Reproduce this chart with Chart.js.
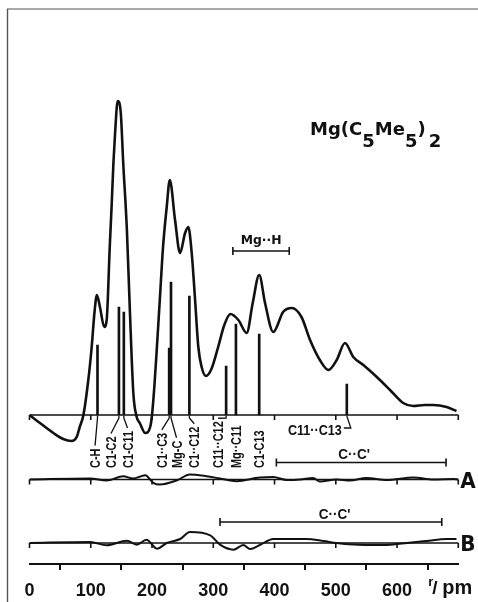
<!DOCTYPE html>
<html>
<head>
<meta charset="utf-8">
<script src="https://cdn.jsdelivr.net/npm/chart.js@4.4.0/dist/chart.umd.min.js"></script>
<style>
  html, body { margin: 0; padding: 0; background: #fff; }
</style>
</head>
<body>
<canvas id="rdf" width="478" height="602"></canvas>
<script>
// radial distribution curve of Mg(C5Me5)2, r in pm, intensity in arbitrary units
const rdfR = [0, 17, 39, 55, 69, 77, 82, 88, 96, 101.5, 106, 110, 115, 122, 126, 131, 134, 137, 140, 144,
  149, 153, 159, 164, 169.5, 175, 180, 189, 197, 200, 204, 208, 213, 218, 224, 229, 237.6, 245.7, 254, 259.3,
  264.8, 270, 275.6, 281, 288, 297, 308, 318, 328, 341, 354.6, 364.4, 375, 384.5, 398, 414, 428, 444, 458, 474,
  488, 501.5, 515, 528.6, 545, 567, 588.6, 610, 626.6, 645, 659, 681, 697];
const rdfVal = [0, -8, -18, -24, -26, -22, -12, 0, 35, 68, 102, 120, 108, 88, 95, 168, 208, 252, 285, 314,
  302, 252, 185, 102, 22, -2, -8, -18, -12, 0, 30, 68, 118, 168, 208, 235, 195, 162, 182, 188,
  162, 118, 68, 48, 39, 46, 68, 90, 101, 95, 82, 112, 140, 112, 83, 103, 107, 98, 75, 55,
  45, 55, 72, 58, 50, 38, 25, 12, 9, 10, 10, 8, 4];

// difference curves A and B
const diffAR = [0, 99, 126, 153, 169, 189, 202, 213, 240, 262, 289, 311, 338, 376, 398, 420, 442, 463, 474,
  501, 523, 550, 583, 627, 659, 692, 700];
const diffAVal = [0, 1, -1, 3.3, 1, 4.3, -3.3, -5, -1, 5, 3.3, 1, -1.7, 2, 2.5, -0.5, 0, 1.5, -2,
  0, -1, 1.5, -0.5, 2, 0, 0.5, 0];
const diffBR = [0, 99, 126, 159, 175, 191, 208, 224, 246, 262, 295, 311, 333, 349, 360, 376, 398, 420, 452,
  480, 501, 529, 572, 594, 616, 648, 681, 697];
const diffBVal = [0, 1, -2.3, 2.3, -1.7, 3.3, -5.7, 0, 4, 11, 7.7, -1.7, -6.7, -2, -6, -2, 4, 4, 4,
  2, 0, -1.5, -2, -1.5, 0, 2, 4, 4];

// interatomic distances (sticks)
const bondNames = ["C-H", "C1-C2", "C1-C11", "C1··C3", "Mg-C", "C1··C12", "C11··C12", "Mg··C11", "C1-C13", "C11··C13"];
const bondR = [111, 146, 154, 228, 231, 261, 321, 337, 375, 518];
const bondHeight = [70, 108, 103, 67, 133, 119, 49, 91, 81, 31];
const bondLabelR = [107, 133, 160, 216, 240, 269, 308, 337, 375, null];

const xTicks = [0, 100, 200, 300, 400, 500, 600, 700];
const rangeMgH = [332, 424];
const rangeCCA = [403, 680];
const rangeCCB = [311, 673];

const ink = "#111";
const toXY = (xs, ys) => xs.map((x, i) => ({ x: x, y: ys[i] }));

function line(ctx, x1, y1, x2, y2, w) {
  ctx.lineWidth = w || 1.5;
  ctx.beginPath();
  ctx.moveTo(x1, y1);
  ctx.lineTo(x2, y2);
  ctx.stroke();
}

function text(ctx, s, x, y, font, squeeze, align) {
  ctx.save();
  ctx.font = font;
  ctx.textAlign = align || "left";
  ctx.textBaseline = "alphabetic";
  ctx.translate(x, y);
  ctx.scale(squeeze || 1, 1);
  ctx.fillText(s, 0, 0);
  ctx.restore();
}

function rangeBar(ctx, xs, r1, r2, y) {
  const a = xs.getPixelForValue(r1), b = xs.getPixelForValue(r2);
  line(ctx, a, y, b, y, 1.6);
  line(ctx, a, y - 4, a, y + 4, 1.6);
  line(ctx, b, y - 4, b, y + 4, 1.6);
}

const decor = {
  id: "decor",
  afterDatasetsDraw(chart) {
    const { ctx } = chart;
    const { x, yMain, yA, yB } = chart.scales;
    ctx.save();
    ctx.strokeStyle = ink;
    ctx.fillStyle = ink;

    // frame
    ctx.strokeStyle = "#555";
    line(ctx, 7.5, 9, 7.5, 602, 1.4);
    line(ctx, 7, 9, 478, 9, 1.2);
    ctx.strokeStyle = ink;

    // zero lines with small ticks
    [yMain, yA, yB].forEach(s => {
      const y0 = s.getPixelForValue(0);
      line(ctx, x.getPixelForValue(0), y0, x.getPixelForValue(700), y0, 1.6);
      xTicks.forEach(t => {
        const px = x.getPixelForValue(t);
        line(ctx, px, y0, px, y0 + 5, 1.6);
      });
    });

    // distance labels below the zero line
    const base = yMain.getPixelForValue(0);
    const labelFont = "bold 14px 'Liberation Sans'";
    const squeeze = 0.78;
    bondNames.forEach((name, i) => {
      if (bondLabelR[i] === null) return;
      const lx = x.getPixelForValue(bondLabelR[i]);
      const sx = x.getPixelForValue(bondR[i]);
      const bottom = base + 53;
      ctx.font = labelFont;
      const w = ctx.measureText(name).width * squeeze;
      ctx.save();
      ctx.translate(lx, bottom);
      ctx.rotate(-Math.PI / 2);
      text(ctx, name, 0, 5, labelFont, squeeze);
      ctx.restore();
      if (Math.abs(lx - sx) > 2) {
        ctx.lineWidth = 1.3;
        ctx.beginPath();
        ctx.moveTo(sx, base + 1);
        ctx.lineTo(sx, base + 3);
        ctx.lineTo(lx, bottom - w - 3);
        ctx.stroke();
      }
    });

    // C11..C13 label
    const s13 = x.getPixelForValue(bondR[9]);
    text(ctx, bondNames[9], s13 - 5, base + 20, "bold 15px 'Liberation Sans'", 0.84, "right");
    ctx.lineWidth = 1.3;
    ctx.beginPath();
    ctx.moveTo(s13, base + 1);
    ctx.lineTo(s13 + 4, base + 13);
    ctx.lineTo(s13 - 3, base + 13);
    ctx.stroke();

    // Mg..H range
    const yMgH = yMain.getPixelForValue(164);
    rangeBar(ctx, x, rangeMgH[0], rangeMgH[1], yMgH);
    text(ctx, "Mg··H", x.getPixelForValue((rangeMgH[0] + rangeMgH[1]) / 2), yMgH - 7, "bold 13px 'DejaVu Sans'", 0.95, "center");

    // C..C' ranges of A and B
    const yCA = yA.getPixelForValue(17);
    rangeBar(ctx, x, rangeCCA[0], rangeCCA[1], yCA);
    text(ctx, "C··C'", x.getPixelForValue(530), yCA - 4, "bold 15px 'Liberation Sans'", 0.9, "center");
    const yCB = yB.getPixelForValue(21);
    rangeBar(ctx, x, rangeCCB[0], rangeCCB[1], yCB);
    text(ctx, "C··C'", x.getPixelForValue(498), yCB - 3, "bold 15px 'Liberation Sans'", 0.9, "center");

    // curve names
    const right = x.getPixelForValue(700);
    text(ctx, "A", right + 2, yA.getPixelForValue(0) + 8, "bold 21px 'DejaVu Sans'", 0.95);
    text(ctx, "B", right + 2, yB.getPixelForValue(0) + 8, "bold 21px 'DejaVu Sans'", 0.95);

    // title Mg(C5Me5)2
    const tf = "bold 18px 'DejaVu Sans'";
    ctx.font = tf;
    let tx = 310;
    [["Mg(C", 0], ["5", 12], ["Me", 0], ["5", 12], [")", 0], ["2", 12]].forEach(([s, dy]) => {
      text(ctx, s, tx, 135 + dy, tf, 1);
      tx += ctx.measureText(s).width + (s === ")" ? 3 : 0);
    });

    // axis unit r/pm
    text(ctx, "r", right - 30, 586, "bold 13px 'Liberation Sans'", 1);
    text(ctx, "/", right - 26, 594, "bold 19px 'Liberation Sans'", 1);
    text(ctx, "pm", right - 16, 594, "bold 21px 'Liberation Sans'", 0.95);

    ctx.restore();
  }
};

new Chart(document.getElementById("rdf"), {
  type: "line",
  data: {
    datasets: [
      {
        label: "radial distribution",
        data: toXY(rdfR, rdfVal),
        yAxisID: "yMain",
        borderColor: ink,
        borderWidth: 2.6,
        pointRadius: 0,
        cubicInterpolationMode: "monotone",
        fill: false
      },
      {
        type: "bar",
        label: "distances",
        data: toXY(bondR, bondHeight),
        yAxisID: "yMain",
        backgroundColor: ink,
        barThickness: 2,
        grouped: false
      },
      {
        label: "A",
        data: toXY(diffAR, diffAVal),
        yAxisID: "yA",
        borderColor: ink,
        borderWidth: 2,
        pointRadius: 0,
        cubicInterpolationMode: "monotone"
      },
      {
        label: "B",
        data: toXY(diffBR, diffBVal),
        yAxisID: "yB",
        borderColor: ink,
        borderWidth: 2,
        pointRadius: 0,
        cubicInterpolationMode: "monotone"
      }
    ]
  },
  options: {
    responsive: false,
    animation: false,
    devicePixelRatio: 1,
    layout: { padding: { left: 29.5, right: 19.7, top: 9, bottom: -10 } },
    plugins: { legend: { display: false }, tooltip: { enabled: false } },
    scales: {
      x: {
        type: "linear",
        min: 0,
        max: 700,
        offset: false,
        position: "bottom",
        border: { display: true, color: ink, width: 2 },
        grid: { drawOnChartArea: false, drawTicks: true, tickLength: 6, color: ink, lineWidth: 2 },
        ticks: {
          stepSize: 100,
          autoSkip: false,
          maxRotation: 0,
          padding: 12,
          color: ink,
          font: { family: "Liberation Sans", size: 18, weight: "bold", lineHeight: 1 },
          callback: v => (v === 700 ? "" : v)
        }
      },
      yMain: { display: false, min: -149, max: 406 },
      yA: { display: false, min: -84.5, max: 470.5 },
      yB: { display: false, min: -21, max: 534 }
    }
  },
  plugins: [decor]
});
</script>
</body>
</html>
